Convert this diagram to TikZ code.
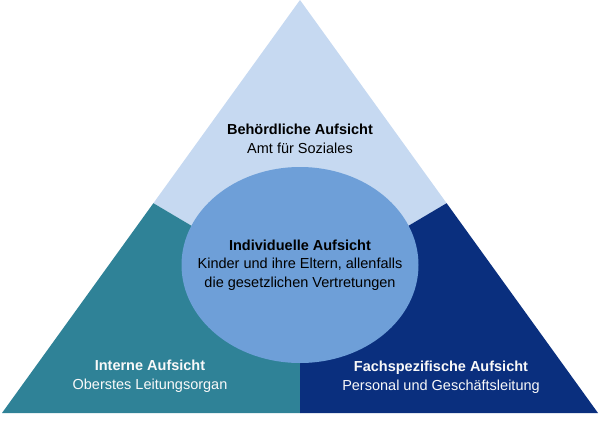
\documentclass[tikz,border=0pt]{standalone}
\usepackage{fontspec}
\setmainfont{Liberation Sans}
\definecolor{aufsichtlight}{RGB}{198,217,241}
\definecolor{aufsichtmid}{RGB}{110,159,216}
\definecolor{aufsichtteal}{RGB}{47,130,151}
\definecolor{aufsichtdark}{RGB}{10,47,126}
\usetikzlibrary{calc}
\usetikzlibrary{positioning}
\tikzset{x=1pt, y=-1pt, % pixel units of the reference
  every node/.style={align=center,
    font=\fontsize{14.5}{18.5}\selectfont},
         area/.style={ % Sets the properties for each part of the triangle
           draw=none},
         lbl/.style={ % text in a part
           inner sep=0pt,
           text=black},
         lblw/.style={lbl,
           text=white!95!gray}}

\begin{document}
\begin{tikzpicture}
  \useasboundingbox (0,0) rectangle (600,423);

  \coordinate (apex) at (300,0);
  \coordinate (left) at (2,413);
  \coordinate (right) at (598,413);
  \coordinate (mid) at (300,413);
  \coordinate (core) at (300,290);
  \coordinate (ls) at ($(apex)!0.492!(left)$);
  \coordinate (rs) at ($(apex)!0.492!(right)$);

  % the three parts of the triangle
  \fill [area, aufsichtlight] (apex) -- (ls) -- (core) -- (rs) -- cycle;
  \fill [area, aufsichtteal] (ls) -- (left) -- (mid) -- (core) -- cycle;
  \fill [area, aufsichtdark] (rs) -- (core) -- (mid) -- (right) -- cycle;

  % ellipse in the middle
  \fill [aufsichtmid] (300,265) ellipse [x radius=118.5, y radius=98];

  \node [lbl] (behoerde) at (300,139) {\textbf{Behördliche Aufsicht}\\ Amt für Soziales};

  \node [lbl] (individuell) at (300,265) {
    \textbf{Individuelle Aufsicht}\\
    Kinder und ihre Eltern, allenfalls\\
    die gesetzlichen Vertretungen
  };

  \node [lblw] (intern) at (150,376) {\textbf{Interne Aufsicht}\\ Oberstes Leitungsorgan};

  \node [lblw] (fach) at (441,377) {\textbf{Fachspezifische Aufsicht}\\ Personal und Geschäftsleitung};

\end{tikzpicture}
\end{document}
